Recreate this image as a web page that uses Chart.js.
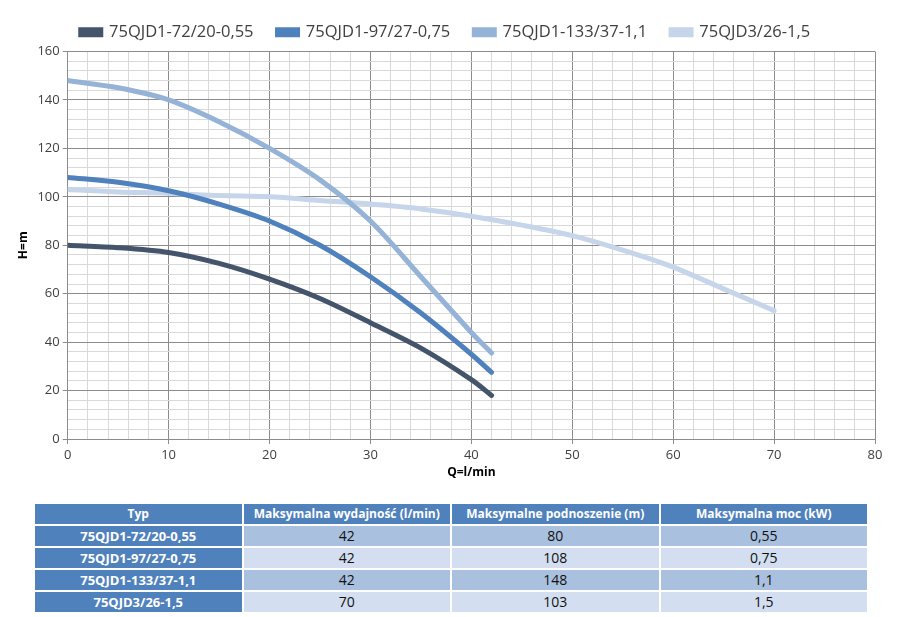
<!DOCTYPE html>
<html>
<head>
<meta charset="utf-8">
<script src="https://cdn.jsdelivr.net/npm/chart.js@4.4.1/dist/chart.umd.min.js"></script>
<style>
  body { margin: 0; background: #fff; font-family: "Open Sans", sans-serif; }
  #wrap { position: relative; width: 900px; height: 617px; }
  #chartBox { position: absolute; left: 0; top: 0; width: 900px; height: 490px; }
  table { position: absolute; left: 33px; top: 502px; width: 836px; border-collapse: collapse; table-layout: fixed; }
  th, td { border: 2px solid #fff; text-align: center; padding: 0; height: 20px; line-height: 20px; width: 25%; }
  th { background: #4f81bd; color: #fff; font-weight: bold; font-size: 12px; }
  td { color: #111; font-size: 14px; }
  tr.odd td { background: #a9c0df; }
  tr.even td { background: #d3dff0; }
  tr td.typ { background: #4f81bd; color: #fff; font-weight: bold; font-size: 13px; }
</style>
</head>
<body>
<div id="wrap">
  <div id="chartBox"><canvas id="pumpChart"></canvas></div>
  <table id="specTable"></table>
</div>
<script>
// Pump curves H(Q)
const seriesNames = ['75QJD1-72/20-0,55', '75QJD1-97/27-0,75', '75QJD1-133/37-1,1', '75QJD3/26-1,5'];
const seriesColors = ['#44546a', '#4f81bd', '#95b3d7', '#c6d5e9'];

const qShort = [0, 5, 10, 15, 20, 25, 30, 35, 40, 42];
const qLong = [0, 5, 10, 15, 20, 25, 30, 35, 40, 45, 50, 55, 60, 65, 70];

const h1 = [80, 79, 77, 72.5, 66, 58, 48, 37.5, 24.5, 18];
const h2 = [108, 106, 102.5, 97, 90, 80, 67, 52, 35, 27.5];
const h3 = [148, 145, 140, 131, 120, 107, 90, 67, 44, 35.5];
const h4 = [103, 102, 101.5, 100.5, 100, 98.5, 97, 95, 92, 88.3, 84, 78, 71, 62, 53];

// table data
const tableHeaders = ['Typ', 'Maksymalna wydajność (l/min)', 'Maksymalne podnoszenie (m)', 'Maksymalna moc (kW)'];
const maxFlow = ['42', '42', '42', '70'];
const maxHead = ['80', '108', '148', '103'];
const maxPower = ['0,55', '0,75', '1,1', '1,5'];

function toPoints(xs, ys) {
    return xs.map(function(x, i) { return { x: x, y: ys[i] }; });
}

const seriesData = [
    toPoints(qShort, h1),
    toPoints(qShort, h2),
    toPoints(qShort, h3),
    toPoints(qLong, h4)
];

function gridColor(step) {
    return function(context) {
        const v = context.tick ? context.tick.value : 0;
        return (Math.round(v) % step === 0) ? '#8c8c8c' : '#d9d9d9';
    };
}

function tickColor(step) {
    return function(context) {
        const v = context.tick ? context.tick.value : 0;
        return (Math.round(v) % step === 0) ? '#8c8c8c' : 'rgba(0,0,0,0)';
    };
}

// extra space under the legend
const legendGap = {
    id: 'legendGap',
    beforeInit(chart) {
        const fit = chart.legend.fit;
        chart.legend.fit = function() {
            fit.bind(chart.legend)();
            this.height += 1;
        };
    }
};

const ctx = document.getElementById('pumpChart').getContext('2d');
window.pumpChart = new Chart(ctx, {
    type: 'line',
    data: {
        datasets: seriesNames.map(function(name, i) {
            return {
                label: name,
                data: seriesData[i],
                borderColor: seriesColors[i],
                backgroundColor: seriesColors[i],
                borderWidth: 5,
                borderCapStyle: 'round',
                pointRadius: 0,
                tension: 0.3,
                fill: false
            };
        })
    },
    options: {
        responsive: true,
        maintainAspectRatio: false,
        animation: false,
        layout: { padding: { left: 16, right: 25, top: 0, bottom: 10 } },
        scales: {
            x: {
                type: 'linear',
                min: 0,
                max: 80,
                ticks: {
                    stepSize: 2,
                    autoSkip: false,
                    maxRotation: 0,
                    color: '#404040',
                    font: { family: 'Open Sans', size: 13 },
                    callback: function(value) {
                        return value % 10 === 0 ? value : '';
                    }
                },
                grid: { color: gridColor(10), tickColor: tickColor(10), tickLength: 5 },
                border: { color: '#8c8c8c' },
                title: {
                    display: true,
                    text: 'Q=l/min',
                    color: '#000',
                    font: { family: 'Open Sans', size: 12, weight: 'bold' },
                    padding: { top: 0, bottom: 0 }
                }
            },
            y: {
                min: 0,
                max: 160,
                ticks: {
                    stepSize: 4,
                    autoSkip: false,
                    color: '#404040',
                    font: { family: 'Open Sans', size: 13 },
                    callback: function(value) {
                        return value % 20 === 0 ? value : '';
                    }
                },
                grid: { color: gridColor(20), tickColor: tickColor(20), tickLength: 5 },
                border: { color: '#8c8c8c' },
                title: {
                    display: true,
                    text: 'H=m',
                    color: '#000',
                    font: { family: 'Open Sans', size: 12, weight: 'bold' },
                    padding: { top: 0, bottom: 4 }
                }
            }
        },
        plugins: {
            legend: {
                display: true,
                position: 'top',
                labels: {
                    boxWidth: 20,
                    boxHeight: 5,
                    color: '#404040',
                    padding: 24,
                    font: { family: 'Open Sans', size: 16.5 }
                }
            },
            tooltip: { enabled: false }
        }
    },
    plugins: [legendGap]
});

// Build the table under the chart
function buildTable() {
    const table = document.getElementById('specTable');
    let html = '<tr>';
    tableHeaders.forEach(function(h) { html += '<th>' + h + '</th>'; });
    html += '</tr>';
    seriesNames.forEach(function(name, i) {
        html += '<tr class="' + (i % 2 === 0 ? 'odd' : 'even') + '">';
        html += '<td class="typ">' + name + '</td>';
        html += '<td>' + maxFlow[i] + '</td>';
        html += '<td>' + maxHead[i] + '</td>';
        html += '<td>' + maxPower[i] + '</td>';
        html += '</tr>';
    });
    table.innerHTML = html;
}
buildTable();
</script>
</body>
</html>
